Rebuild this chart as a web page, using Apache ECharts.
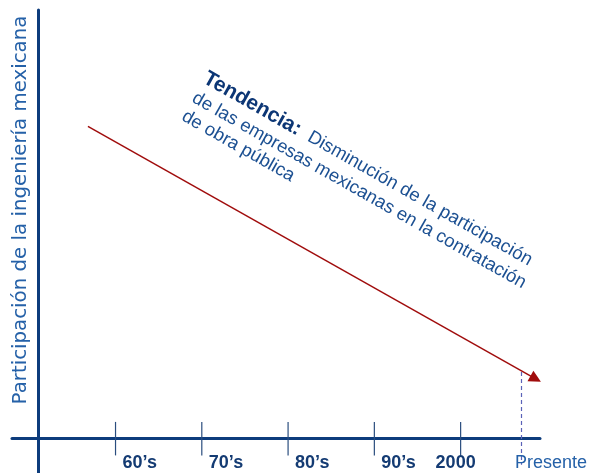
<!DOCTYPE html>
<html>
<head>
<meta charset="utf-8">
<script src="https://cdn.jsdelivr.net/npm/echarts@6/dist/echarts.min.js"></script>
<style>
  html, body { margin: 0; padding: 0; background: #ffffff; }
  #chart { width: 589px; height: 473px; }
</style>
</head>
<body>
<div id="chart"></div>
<script>
// Decade ticks along the time axis
const decadeYears = [1960, 1970, 1980, 1990, 2000];
const decadeLabels = ['60’s', '70’s', '80’s', '90’s', '2000'];

// "Presente" marker
const presentYear = 2007;
const presentLabel = 'Presente';
const presentGuide = [15.4, -6.3];   // dashed guide: from trend line down past the axis

// Trend line (participation index, start -> end)
const trendYears = [1956.8, 2008.7];
const trendValues = [72.8, 13.8];

// Texts
const yTitle = 'Participación de la ingeniería mexicana';
const trendTitle = 'Tendencia:';
const trendText = ['  Disminución de la participación',
                   'de las empresas mexicanas en la contratación',
                   'de obra pública'];

const NAVY = '#0d3c7c';
const LABEL_NAVY = '#143b73';
const MID_BLUE = '#2561a8';
const TEXT_BLUE = '#1c5092';
const RED = '#a00c0c';

const chart = echarts.init(document.getElementById('chart'), null, { renderer: 'canvas' });

// Label placement per tick: decade labels sit to the right of their tick, "2000" is centred
const labelAlign = ['left', 'left', 'left', 'left', 'center'];
const labelShift = [7, 7, 7, 7, -5];

chart.setOption({
  animation: false,
  backgroundColor: '#ffffff',
  grid: { left: 12, right: 49, top: 10, bottom: 0 },
  xAxis: {
    type: 'value',
    min: 1948,
    max: 2009.2,
    axisLine: { show: true, onZero: true, lineStyle: { color: NAVY, width: 3 } },
    axisTick: { show: false },
    axisLabel: { show: false },
    splitLine: { show: false }
  },
  yAxis: {
    type: 'value',
    min: -8.2,
    max: 100,
    offset: -26.5,
    axisLine: { show: true, onZero: false, lineStyle: { color: NAVY, width: 3 } },
    axisTick: { show: false },
    axisLabel: { show: false },
    splitLine: { show: false },
    name: yTitle,
    nameLocation: 'middle',
    nameRotate: 90,
    nameGap: 8,
    nameTextStyle: {
      color: MID_BLUE,
      fontFamily: 'DejaVu Sans',
      fontSize: 19.8,
      padding: [0, 0, 0, 63]
    }
  },
  series: [
    {
      // decade ticks crossing the time axis, with their labels
      type: 'custom',
      silent: true,
      clip: false,
      data: decadeYears.map((y, i) => [y, i]),
      renderItem: function (params, api) {
        const i = api.value(1);
        const p = api.coord([api.value(0), 0]);
        return {
          type: 'group',
          children: [
            {
              type: 'line',
              shape: { x1: p[0], y1: p[1] - 16, x2: p[0], y2: p[1] + 17.5 },
              style: { stroke: '#2a4d7e', lineWidth: 1.2 }
            },
            {
              type: 'text',
              x: p[0] + labelShift[i],
              y: p[1] + 25.5,
              style: {
                text: decadeLabels[i],
                fill: LABEL_NAVY,
                fontFamily: 'Liberation Sans',
                fontWeight: 'bold',
                fontSize: 18,
                align: labelAlign[i],
                verticalAlign: 'middle'
              }
            }
          ]
        };
      }
    },
    {
      // dashed guide marking the present
      type: 'lines',
      coordinateSystem: 'cartesian2d',
      silent: true,
      symbol: ['none', 'none'],
      lineStyle: { color: '#5a62b8', width: 1.2, type: [4, 3], opacity: 1 },
      data: [{ coords: [[presentYear, presentGuide[0]], [presentYear, presentGuide[1]]] }]
    },
    {
      // "Presente" label
      type: 'custom',
      silent: true,
      clip: false,
      data: [[presentYear, 0]],
      renderItem: function (params, api) {
        const p = api.coord([api.value(0), api.value(1)]);
        return {
          type: 'text',
          x: p[0] - 6,
          y: p[1] + 25.5,
          style: {
            text: presentLabel,
            fill: MID_BLUE,
            fontFamily: 'Liberation Sans',
            fontSize: 18,
            align: 'left',
            verticalAlign: 'middle'
          }
        };
      }
    },
    {
      // declining trend arrow
      type: 'lines',
      coordinateSystem: 'cartesian2d',
      silent: true,
      symbol: ['none', 'triangle'],
      symbolSize: [9, 12],
      lineStyle: { color: RED, width: 1.5, opacity: 1 },
      data: [{ coords: [[trendYears[0], trendValues[0]], [trendYears[1], trendValues[1]]] }]
    }
  ],
  graphic: [
    {
      type: 'text',
      x: 211,
      y: 66,
      rotation: -29.5 * Math.PI / 180,
      silent: true,
      style: {
        text: '{b|' + trendTitle + '}{r|' + trendText[0] + '}\n{r|' + trendText[1] + '}\n{r|' + trendText[2] + '}',
        align: 'left',
        verticalAlign: 'top',
        rich: {
          b: { fill: '#0c3675', fontFamily: 'Liberation Sans', fontWeight: 'bold', fontSize: 21, lineHeight: 25 },
          r: { fill: TEXT_BLUE, fontFamily: 'Liberation Sans', fontSize: 18.5, lineHeight: 21 }
        }
      }
    }
  ]
});
</script>
</body>
</html>
